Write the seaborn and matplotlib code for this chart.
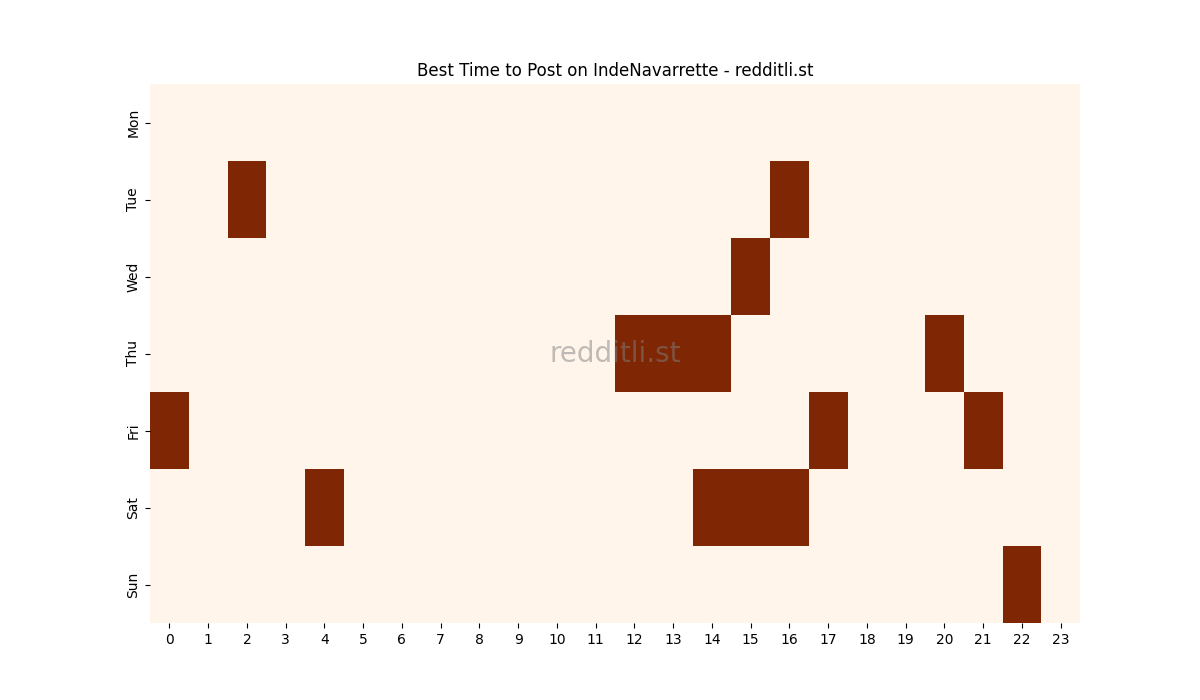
import numpy as np
import pandas as pd
import matplotlib
matplotlib.use("Agg")
import matplotlib.pyplot as plt
import seaborn as sns

days = ["Mon", "Tue", "Wed", "Thu", "Fri", "Sat", "Sun"]
hours = list(range(24))
# best posting hours per day (cells marked as top)
best_mon = []
best_tue = [2, 16]
best_wed = [15]
best_thu = [12, 13, 14, 20]
best_fri = [0, 17, 21]
best_sat = [4, 14, 15, 16]
best_sun = [22]

best = [best_mon, best_tue, best_wed, best_thu, best_fri, best_sat, best_sun]
grid = np.zeros((len(days), len(hours)))
for i, hs in enumerate(best):
    for h in hs:
        grid[i, h] = 1
df = pd.DataFrame(grid, index=days, columns=hours)

fig, ax = plt.subplots(figsize=(12, 7), dpi=100)
sns.heatmap(df, cmap="Oranges", cbar=False, ax=ax)
ax.set_title("Best Time to Post on IndeNavarrette - redditli.st")
ax.text(0.5, 0.5, "redditli.st", transform=ax.transAxes, ha="center", va="center",
        fontsize=20, color="gray", alpha=0.5)
ax.set_xlabel("")
ax.set_ylabel("")
fig.savefig("out.png", dpi=100)
